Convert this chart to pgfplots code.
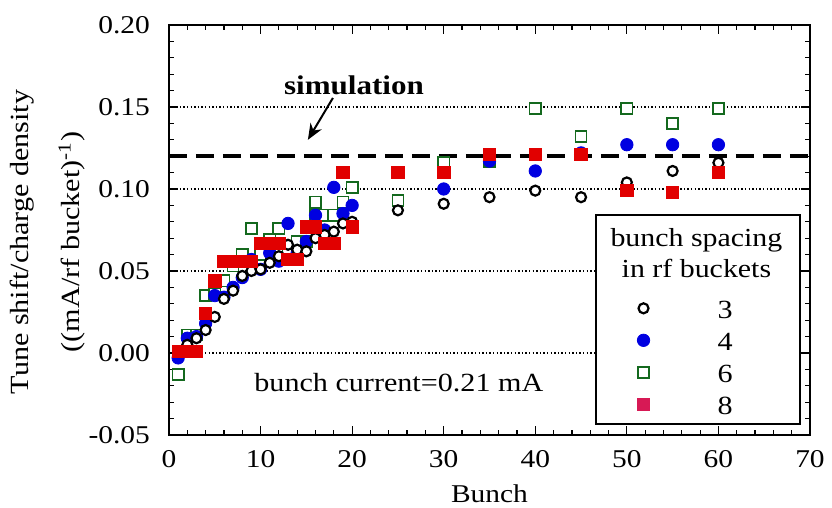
\documentclass[border=0pt]{standalone}
\usepackage{fontspec}
\setmainfont{Liberation Serif}[FakeStretch=1.15]
\usepackage{pgfplots}
\pgfplotsset{compat=1.18}
\usetikzlibrary{arrows.meta}
\definecolor{cblue}{RGB}{0,0,225}
\definecolor{cgreen}{RGB}{20,105,30}
\definecolor{cred}{RGB}{225,0,0}
\definecolor{clegred}{RGB}{215,25,85}
\newcommand{\mf}{\fontsize{12.8}{15}\selectfont}
\newcommand{\lf}{\fontsize{13.1}{15.5}\selectfont}
\begin{document}
\begin{tikzpicture}[font=\mf]
\path[use as bounding box] (-84.5pt,-36.5pt) rectangle (331.5pt,217.5pt);
\begin{axis}[
  at={(0pt,0pt)}, anchor=south west,
  scale only axis, width=320.5pt, height=205pt,
  xmin=0, xmax=70, ymin=-0.05, ymax=0.20,
  xtick={0,10,20,30,40,50,60,70},
  ytick={-0.05,0,0.05,0.10,0.15,0.20},
  minor x tick num=4, minor y tick num=4,
  tick align=inside,
  major tick length=4.5pt, minor tick length=2.5pt,
  axis line style={line width=1pt},
  tick style={black, line width=0.6pt},
  /pgf/number format/assume math mode=true,
  yticklabel style={/pgf/number format/.cd, fixed, fixed zerofill, precision=2, /tikz/.cd, xshift=-6pt},
  xticklabel style={yshift=-4pt},
  ticklabel style={font=\mf},
  ymajorgrids,
  major grid style={black, line width=0.7pt, dash pattern=on 0.7pt off 1.1pt},
  xlabel={Bunch},
  xlabel style={font=\mf, yshift=-2pt},
  ylabel={Tune shift/charge density\\[10pt]((mA/rf bucket)\textsuperscript{-1})},
  ylabel style={align=center, font=\lf, yshift=-5pt, xshift=-6pt},
  legend style={at={(axis cs:51.1,0.0348)}, anchor=north west, draw=none, fill=none,
    inner sep=0pt, row sep=4pt, nodes={inner sep=1pt, text height=10pt, text depth=0pt, font=\lf}},
  legend cell align=left,
]
\addlegendimage{only marks, mark=*, mark size=2.5pt, mark options={draw=black, fill=white, line width=1.1pt}}
\addlegendentry{\hspace*{33pt}3}
\addlegendimage{only marks, mark=*, mark size=3.1pt, mark options={draw=cblue, fill=cblue}}
\addlegendentry{\hspace*{33pt}4}
\addlegendimage{only marks, mark=square*, mark size=2.8pt, mark options={draw=cgreen, fill=white, line width=0.8pt}}
\addlegendentry{\hspace*{33pt}6}
\addlegendimage{only marks, mark=square*, mark size=3.1pt, mark options={draw=clegred, fill=clegred}}
\addlegendentry{\hspace*{33pt}8}

% simulation line
\addplot[forget plot, black, line width=2.3pt, dash pattern=on 9pt off 4.5pt] coordinates {(0,0.12) (70,0.12)};

% spacing 6
\addplot[forget plot, only marks, mark=square*, mark size=2.8pt, mark options={draw=cgreen, fill=white, line width=0.8pt}] coordinates {
(1,-0.013)(2,0.011)(3,0.011)(4,0.035)(5,0.036)(6,0.044)(7,0.053)(8,0.060)(9,0.076)(10,0.060)
(11,0.069)(12,0.076)(13,0.061)(14,0.068)(15,0.068)(16,0.092)(16,0.084)(17,0.084)(18,0.084)(19,0.092)(20,0.101)
(25,0.093)(30,0.116)(35,0.117)(40,0.149)(45,0.132)(50,0.149)(55,0.140)(60,0.149)};

% spacing 4
\addplot[forget plot, only marks, mark=*, mark size=3.1pt, mark options={draw=cblue, fill=cblue}] coordinates {
(1,-0.003)(2,0.009)(3,0.010)(4,0.018)(5,0.035)(6,0.034)(7,0.040)(8,0.046)(9,0.057)(10,0.051)
(11,0.061)(12,0.056)(13,0.079)(14,0.061)(15,0.068)(16,0.084)(17,0.075)(18,0.101)(19,0.085)(20,0.090)
(30,0.100)(35,0.117)(40,0.111)(45,0.122)(50,0.127)(55,0.127)(60,0.127)};

% spacing 3
\addplot[forget plot, only marks, mark=*, mark size=2.5pt, mark options={draw=black, fill=white, line width=1.1pt}] coordinates {
(1,0.001)(2,0.005)(3,0.009)(4,0.014)(5,0.022)(6,0.033)(7,0.038)(8,0.047)(9,0.050)(10,0.051)
(11,0.055)(12,0.059)(13,0.066)(14,0.063)(15,0.062)(16,0.070)(17,0.072)(18,0.074)(19,0.079)(20,0.080)
(25,0.087)(30,0.091)(35,0.095)(40,0.099)(45,0.095)(50,0.104)(55,0.111)(60,0.116)};

% spacing 8
\addplot[forget plot, only marks, mark=square*, mark size=3.1pt, mark options={draw=cred, fill=cred}] coordinates {
(1,0.001)(2,0.001)(3,0.001)(4,0.024)(5,0.044)(6,0.056)(7,0.056)(8,0.056)(9,0.056)(10,0.067)
(11,0.067)(12,0.067)(13,0.057)(14,0.057)(15,0.077)(16,0.077)(17,0.067)(18,0.067)(19,0.110)(20,0.077)
(25,0.110)(30,0.110)(35,0.121)(40,0.121)(45,0.121)(50,0.099)(55,0.098)(60,0.110)};

\draw[line width=1pt, fill=white] (axis cs:46.6,0.084) rectangle (axis cs:68.9,-0.043);
\node[font=\fontsize{13}{16}\selectfont] at (axis cs:57.6,0.0685) {bunch spacing};
\node[font=\fontsize{13}{16}\selectfont] at (axis cs:57.6,0.0515) {in rf buckets};
\node[font=\fontsize{13.5}{16}\selectfont\bfseries] at (axis cs:20.2,0.163) {simulation};
\draw[-{Stealth[length=8pt,width=6.5pt]}, line width=1pt] (axis cs:17.9,0.1555) -- (axis cs:15.17,0.130);
\node[font=\lf] at (axis cs:25.1,-0.0183) {bunch current=0.21 mA};
\end{axis}
\end{tikzpicture}
\end{document}
